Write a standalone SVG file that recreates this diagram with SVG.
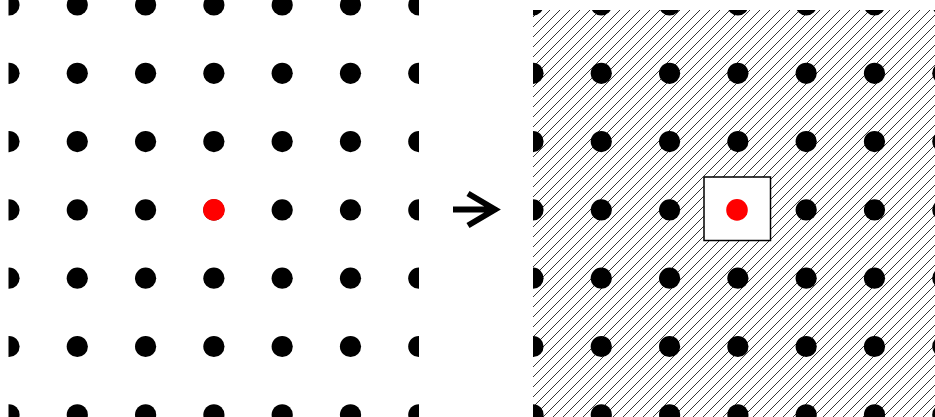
<svg xmlns="http://www.w3.org/2000/svg" xmlns:xlink="http://www.w3.org/1999/xlink" width="935" height="417" viewBox="0 0 935 417">
<style>
.dot{fill:#000}
.red{fill:#ff0000}
</style>
<defs>
<pattern id="hatch" patternUnits="userSpaceOnUse" x="0" y="0" width="10" height="10">
<path d="M-2,2 L2,-2 M0,10 L10,0 M8,12 L12,8" stroke="#000" stroke-width="0.8" fill="none"/>
</pattern>
<clipPath id="clipL"><rect x="8.5" y="0" width="410.5" height="417"/></clipPath>
<clipPath id="clipR"><rect x="533" y="10" width="402" height="407"/></clipPath>
<g id="row">
<circle class="dot" cx="0" cy="0" r="10.6"/>
<circle class="dot" cx="68.3" cy="0" r="10.6"/>
<circle class="dot" cx="136.6" cy="0" r="10.6"/>
<circle class="dot" cx="204.9" cy="0" r="10.6"/>
<circle class="dot" cx="273.2" cy="0" r="10.6"/>
<circle class="dot" cx="341.5" cy="0" r="10.6"/>
<circle class="dot" cx="409.8" cy="0" r="10.6"/>
</g>
<g id="grid">
<use xlink:href="#row" y="5"/>
<use xlink:href="#row" y="73.3"/>
<use xlink:href="#row" y="141.6"/>
<use xlink:href="#row" y="209.9"/>
<use xlink:href="#row" y="278.2"/>
<use xlink:href="#row" y="346.5"/>
<use xlink:href="#row" y="414.8"/>
</g>
</defs>
<rect width="935" height="417" fill="#fff"/>
<g id="left-panel" clip-path="url(#clipL)">
<use xlink:href="#grid" x="9"/>
<circle class="red" cx="213.9" cy="209.9" r="10.8"/>
</g>
<g id="arrow">
<path d="M453,209.5 H493 M468,193.5 L495,209.5 L468,225.5" stroke="#000" stroke-width="6" fill="none" stroke-linejoin="miter"/>
</g>
<g id="right-panel" clip-path="url(#clipR)">
<rect x="533" y="10" width="402" height="407" fill="url(#hatch)"/>
<use xlink:href="#grid" x="533"/>
<rect x="704" y="177" width="66.5" height="63.5" fill="#fff" stroke="#000" stroke-width="1.5"/>
<circle class="red" cx="737" cy="209.9" r="10.8"/>
</g>
</svg>
